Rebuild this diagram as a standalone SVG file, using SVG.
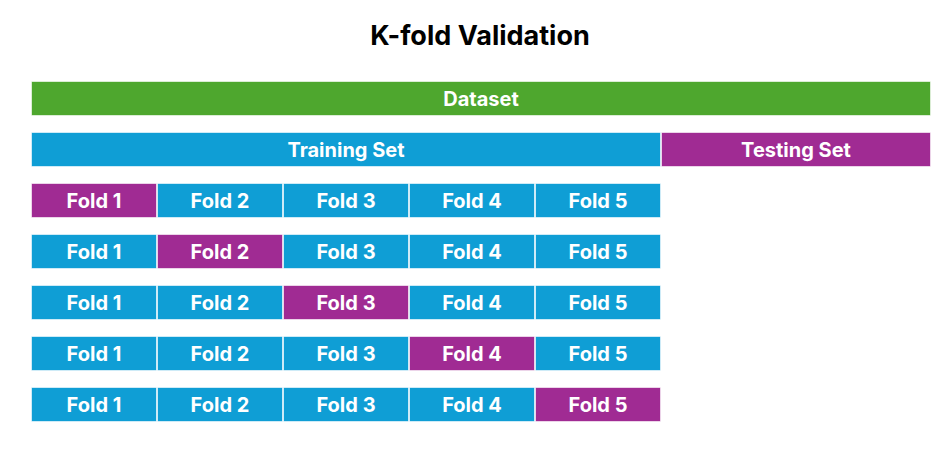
<svg xmlns="http://www.w3.org/2000/svg" width="947" height="451" viewBox="0 0 947 451">
<style>
.b{stroke:#ffffff;stroke-opacity:0.6;stroke-width:1}
.g{fill:#4EA72E}.bl{fill:#0F9ED5}.p{fill:#A02B93}
.t{font-family:Inter,"Open Sans","Liberation Sans",sans-serif;font-weight:700;font-size:20px;fill:#ffffff;text-anchor:middle;dominant-baseline:central}
.h{font-family:Inter,"Open Sans","Liberation Sans",sans-serif;font-weight:700;font-size:27px;fill:#000000;text-anchor:middle}
</style>
<rect width="947" height="451" fill="#ffffff"/>
<text class="h" x="480" y="45">K-fold Validation</text>
<g id="dataset"><rect class="g b" x="31.5" y="81.5" width="899" height="34"/><text class="t" x="481" y="99">Dataset</text></g>
<g id="training"><rect class="bl b" x="31.5" y="132.5" width="629" height="34"/><text class="t" x="346" y="150">Training Set</text></g>
<g id="testing"><rect class="p b" x="661.5" y="132.5" width="269" height="34"/><text class="t" x="796" y="150">Testing Set</text></g>
<g id="row1">
<rect class="p b" x="31.5" y="183.5" width="125" height="34"/><text class="t" x="94" y="201">Fold 1</text>
<rect class="bl b" x="157.5" y="183.5" width="125" height="34"/><text class="t" x="220" y="201">Fold 2</text>
<rect class="bl b" x="283.5" y="183.5" width="125" height="34"/><text class="t" x="346" y="201">Fold 3</text>
<rect class="bl b" x="409.5" y="183.5" width="125" height="34"/><text class="t" x="472" y="201">Fold 4</text>
<rect class="bl b" x="535.5" y="183.5" width="125" height="34"/><text class="t" x="598" y="201">Fold 5</text>
</g>
<g id="row2">
<rect class="bl b" x="31.5" y="234.5" width="125" height="34"/><text class="t" x="94" y="252">Fold 1</text>
<rect class="p b" x="157.5" y="234.5" width="125" height="34"/><text class="t" x="220" y="252">Fold 2</text>
<rect class="bl b" x="283.5" y="234.5" width="125" height="34"/><text class="t" x="346" y="252">Fold 3</text>
<rect class="bl b" x="409.5" y="234.5" width="125" height="34"/><text class="t" x="472" y="252">Fold 4</text>
<rect class="bl b" x="535.5" y="234.5" width="125" height="34"/><text class="t" x="598" y="252">Fold 5</text>
</g>
<g id="row3">
<rect class="bl b" x="31.5" y="285.5" width="125" height="34"/><text class="t" x="94" y="303">Fold 1</text>
<rect class="bl b" x="157.5" y="285.5" width="125" height="34"/><text class="t" x="220" y="303">Fold 2</text>
<rect class="p b" x="283.5" y="285.5" width="125" height="34"/><text class="t" x="346" y="303">Fold 3</text>
<rect class="bl b" x="409.5" y="285.5" width="125" height="34"/><text class="t" x="472" y="303">Fold 4</text>
<rect class="bl b" x="535.5" y="285.5" width="125" height="34"/><text class="t" x="598" y="303">Fold 5</text>
</g>
<g id="row4">
<rect class="bl b" x="31.5" y="336.5" width="125" height="34"/><text class="t" x="94" y="354">Fold 1</text>
<rect class="bl b" x="157.5" y="336.5" width="125" height="34"/><text class="t" x="220" y="354">Fold 2</text>
<rect class="bl b" x="283.5" y="336.5" width="125" height="34"/><text class="t" x="346" y="354">Fold 3</text>
<rect class="p b" x="409.5" y="336.5" width="125" height="34"/><text class="t" x="472" y="354">Fold 4</text>
<rect class="bl b" x="535.5" y="336.5" width="125" height="34"/><text class="t" x="598" y="354">Fold 5</text>
</g>
<g id="row5">
<rect class="bl b" x="31.5" y="387.5" width="125" height="34"/><text class="t" x="94" y="405">Fold 1</text>
<rect class="bl b" x="157.5" y="387.5" width="125" height="34"/><text class="t" x="220" y="405">Fold 2</text>
<rect class="bl b" x="283.5" y="387.5" width="125" height="34"/><text class="t" x="346" y="405">Fold 3</text>
<rect class="bl b" x="409.5" y="387.5" width="125" height="34"/><text class="t" x="472" y="405">Fold 4</text>
<rect class="p b" x="535.5" y="387.5" width="125" height="34"/><text class="t" x="598" y="405">Fold 5</text>
</g>
<g id="connectors"></g>
</svg>
